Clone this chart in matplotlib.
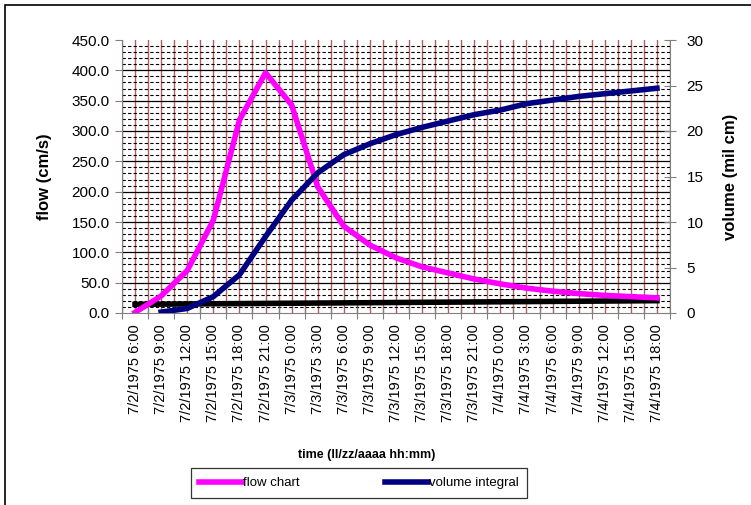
import numpy as np
import matplotlib.pyplot as plt
from matplotlib.patches import Rectangle

plt.rcParams['font.family'] = ['Liberation Sans', 'DejaVu Sans']

labels = ['7/2/1975 6:00', '7/2/1975 9:00', '7/2/1975 12:00', '7/2/1975 15:00',
          '7/2/1975 18:00', '7/2/1975 21:00', '7/3/1975 0:00', '7/3/1975 3:00',
          '7/3/1975 6:00', '7/3/1975 9:00', '7/3/1975 12:00', '7/3/1975 15:00',
          '7/3/1975 18:00', '7/3/1975 21:00', '7/4/1975 0:00', '7/4/1975 3:00',
          '7/4/1975 6:00', '7/4/1975 9:00', '7/4/1975 12:00', '7/4/1975 15:00',
          '7/4/1975 18:00']

# flow (cm/s), left axis
flow = [1, 28, 70, 153, 318, 396, 343, 208, 143, 112, 91, 76, 66, 56, 48,
        41, 36, 32, 29, 27, 25]
# volume integral (mil cm), right axis, starts at second step
volume = [np.nan, 0.1, 0.5, 1.8, 4.2, 8.4, 12.4, 15.4, 17.4, 18.6, 19.6, 20.4,
          21.1, 21.8, 22.3, 23.0, 23.4, 23.8, 24.1, 24.4, 24.7]
# base flow line
base = [14.3, 14.6, 14.9, 15.2, 15.5, 15.8, 16.1, 16.4, 16.7, 17.0, 17.3,
        17.6, 17.9, 18.2, 18.5, 18.8, 19.1, 19.4, 19.7, 20.0, 20.3]

x = np.arange(len(labels))

fig = plt.figure(figsize=(7.51, 5.05), dpi=100)
fig.patches.append(Rectangle((5 / 751, -0.1), 2, 1 - 5 / 505 + 0.1,
                             transform=fig.transFigure, fill=False,
                             edgecolor='black', linewidth=1.2))

ax = fig.add_axes([122 / 751, 1 - 313 / 505, 548 / 751, 273 / 505])
ax.set_xlim(-0.5, len(labels) - 0.5)
ax.set_ylim(0, 450)

# grid: brown verticals every half step, dashed minor and solid major horizontals
for v in np.arange(-0.5, len(labels), 0.5):
    ax.axvline(v, color='#b06060', linewidth=1.0, zorder=0)
for h in range(10, 450, 10):
    if h % 50 == 0:
        ax.axhline(h, color='black', linewidth=0.9, zorder=0.5)
    else:
        ax.axhline(h, color='black', linewidth=0.8, linestyle=(0, (3, 2)), zorder=0.5)

for s in ['top', 'right']:
    ax.spines[s].set_visible(False)
ax.spines['left'].set_color('#808080')
ax.spines['bottom'].set_color('#808080')

ax.set_yticks(np.arange(0, 451, 50))
ax.set_yticklabels([f'{v:.1f}' for v in np.arange(0, 451, 50)])
ax.set_xticks(np.arange(-0.5, len(labels), 1.0))
ax.set_xticklabels([])
ax.set_xticks(x, minor=True)
ax.set_xticklabels(labels, minor=True, rotation=90, fontsize=10.5)
ax.tick_params(axis='x', which='minor', length=0, pad=8)
ax.tick_params(axis='x', which='major', direction='inout', length=8, color='#808080')
ax.tick_params(axis='y', direction='out', length=5, color='#808080', labelsize=11, pad=4)

ax.plot(x, base, color='black', linewidth=4, zorder=3)
ax.plot(x, flow, color='#ff00ff', linewidth=4, zorder=4, label='flow chart')

ax2 = ax.twinx()
ax2.set_ylim(0, 30)
ax2.set_yticks(np.arange(0, 31, 5))
for s in ['top', 'left', 'bottom']:
    ax2.spines[s].set_visible(False)
ax2.spines['right'].set_color('#808080')
ax2.tick_params(axis='y', direction='inout', length=8, color='#808080', labelsize=11, pad=8)
ax2.plot(x, volume, color='#000080', linewidth=4, zorder=4, label='volume integral')

ax.set_ylabel('flow (cm/s)', fontsize=12, fontweight='bold', labelpad=14)
ax2.set_ylabel('volume (mil cm)', fontsize=12, fontweight='bold', labelpad=14)
fig.text(367 / 751, 1 - 455 / 505, 'time (ll/zz/aaaa hh:mm)', ha='center',
         va='center', fontsize=9, fontweight='bold')

h1, l1 = ax.get_legend_handles_labels()
h2, l2 = ax2.get_legend_handles_labels()
leg = fig.legend(h1 + h2, l1 + l2, loc='center', ncol=2,
                 bbox_to_anchor=(359 / 751, 1 - 483 / 505), frameon=True,
                 fancybox=False, edgecolor='black', fontsize=9.5,
                 handlelength=3.2, handletextpad=0.1, columnspacing=6.5,
                 borderpad=0.65)
leg.get_frame().set_linewidth(0.9)

fig.savefig('out.png', dpi=100)
